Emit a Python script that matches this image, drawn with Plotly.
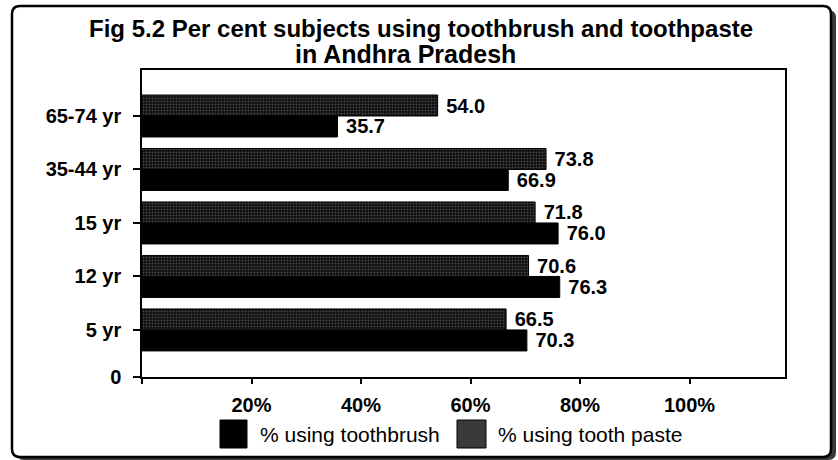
import plotly.graph_objects as go

# Age groups (bottom to top) and percentages
age_groups = ["5 yr", "12 yr", "15 yr", "35-44 yr", "65-74 yr"]
toothbrush = [70.3, 76.3, 76.0, 66.9, 35.7]
toothpaste = [66.5, 70.6, 71.8, 73.8, 54.0]
x_ticks = [20, 40, 60, 80, 100]
x_tick_labels = ["20%", "40%", "60%", "80%", "100%"]
series_names = ["% using toothbrush", "% using tooth paste"]
title_lines = ["Fig 5.2 Per cent subjects using toothbrush and toothpaste",
               "in Andhra Pradesh"]

FONT = "Liberation Sans, Arial, Helvetica, sans-serif"
W, H = 838, 460
L, R, T, B = 142, 785, 70, 377
PW, PH = R - L, B - T


def px(x):
    return (x - L) / PW


def py(y):
    return (B - y) / PH


def rounded_rect(x0, y0, x1, y1, r):
    # rounded rectangle path in paper coordinates from pixel corners
    rx, ry = r / PW, r / PH
    a, b_, c, d = px(x0), py(y0), px(x1), py(y1)
    return (
        f"M{a + rx},{b_} L{c - rx},{b_} Q{c},{b_} {c},{b_ - ry} "
        f"L{c},{d + ry} Q{c},{d} {c - rx},{d} "
        f"L{a + rx},{d} Q{a},{d} {a},{d + ry} "
        f"L{a},{b_ - ry} Q{a},{b_} {a + rx},{b_} Z"
    )


ypos = list(range(len(age_groups)))
bold = dict(family=FONT, size=20, color="black", weight="bold")

fig = go.Figure()
fig.add_trace(go.Bar(
    y=ypos, x=toothbrush, orientation="h", name=series_names[0],
    marker=dict(color="black", line=dict(color="black", width=1)),
    texttemplate=" %{x:.1f}", textposition="outside", textfont=bold,
    cliponaxis=False, showlegend=False,
))
fig.add_trace(go.Bar(
    y=ypos, x=toothpaste, orientation="h", name=series_names[1],
    marker=dict(
        color="#1a1a1a",
        line=dict(color="black", width=1),
        pattern=dict(shape=".", bgcolor="#141414", fgcolor="#8c8c8c",
                     size=3, solidity=0.22, fillmode="overlay"),
    ),
    texttemplate=" %{x:.1f}", textposition="outside", textfont=bold,
    cliponaxis=False, showlegend=False,
))

y_bottom = -0.88
shapes = [
    # drop shadow and framed border around the whole chart
    dict(type="path", xref="paper", yref="paper", layer="below",
         path=rounded_rect(16, 10, 836, 460, 8),
         fillcolor="#3a3a3a", line=dict(width=0)),
    dict(type="path", xref="paper", yref="paper", layer="below",
         path=rounded_rect(12, 6, 831, 457, 8),
         fillcolor="white", line=dict(color="black", width=2.5)),
    # legend swatches
    dict(type="rect", xref="paper", yref="paper",
         x0=px(220), x1=px(247), y0=py(448), y1=py(420),
         fillcolor="black", line=dict(color="black", width=1)),
    dict(type="rect", xref="paper", yref="paper",
         x0=px(457), x1=px(486), y0=py(448), y1=py(420),
         fillcolor="#3a3a3a", line=dict(color="black", width=1)),
]

annotations = [
    dict(text=title_lines[0], xref="paper", yref="paper",
         x=px(421), y=py(29), xanchor="center", yanchor="middle",
         showarrow=False,
         font=dict(family=FONT, size=24, color="black", weight="bold")),
    dict(text=title_lines[1], xref="paper", yref="paper",
         x=px(405), y=py(54), xanchor="center", yanchor="middle",
         showarrow=False,
         font=dict(family=FONT, size=25, color="black", weight="bold")),
    dict(text=series_names[0], xref="paper", yref="paper",
         x=px(258), y=py(434), xanchor="left", yanchor="middle",
         showarrow=False, font=dict(family=FONT, size=21, color="black")),
    dict(text=series_names[1], xref="paper", yref="paper",
         x=px(496), y=py(434), xanchor="left", yanchor="middle",
         showarrow=False, font=dict(family=FONT, size=21, color="black")),
]

fig.update_layout(
    width=W, height=H,
    margin=dict(l=L, r=W - R, t=T, b=H - B, pad=0),
    paper_bgcolor="white", plot_bgcolor="rgba(0,0,0,0)",
    barmode="group", bargap=0.215, bargroupgap=0,
    showlegend=False,
    xaxis=dict(
        range=[0, (R - L) / ((689.5 - L) / 100)],
        tickvals=[0] + x_ticks, ticktext=[""] + x_tick_labels,
        ticks="outside", ticklen=5, tickwidth=1.5, tickcolor="black",
        showline=True, linecolor="black", linewidth=1.5, mirror=True,
        showgrid=False, zeroline=False,
        tickfont=bold, ticklabelstandoff=4,
    ),
    yaxis=dict(
        range=[y_bottom, 4.86],
        tickvals=[y_bottom] + ypos, ticktext=["0"] + age_groups,
        ticks="outside", ticklen=7, tickwidth=1.5, tickcolor="black",
        showline=True, linecolor="black", linewidth=1.5, mirror=True,
        showgrid=False, zeroline=False,
        tickfont=bold, ticklabelstandoff=8,
    ),
    shapes=shapes,
    annotations=annotations,
)
fig.update_traces(constraintext="none")

fig.write_html("out.html")
